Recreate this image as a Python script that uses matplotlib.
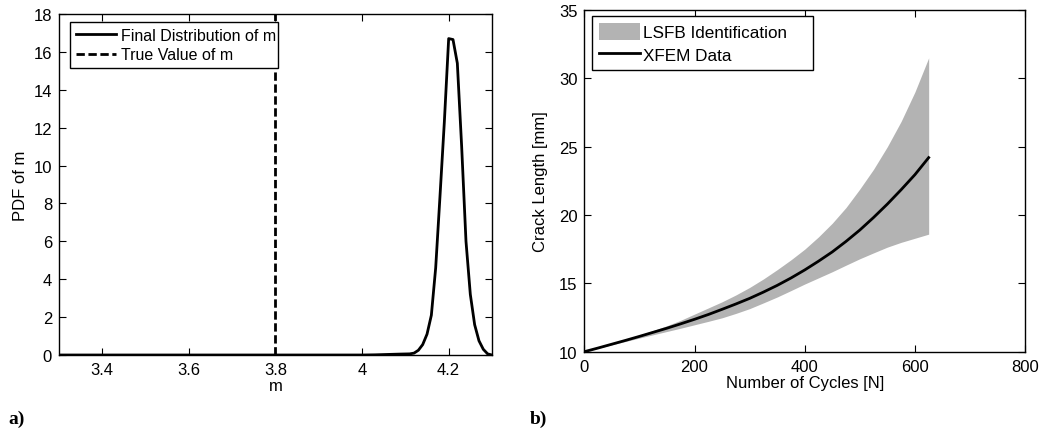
import numpy as np
import matplotlib.pyplot as plt

plt.rcParams['font.family'] = ['Liberation Sans', 'DejaVu Sans']
plt.rcParams['font.size'] = 12

# panel a) : posterior pdf of m
m_vals = [3.30, 3.60, 3.90, 4.00, 4.03, 4.06, 4.09, 4.11, 4.12, 4.13, 4.14,
          4.15, 4.16, 4.17, 4.18, 4.19, 4.20, 4.21, 4.22, 4.23, 4.24, 4.25,
          4.26, 4.27, 4.28, 4.29, 4.30]
pdf_vals = [0.0, 0.0, 0.0, 0.0, 0.01, 0.03, 0.05, 0.06, 0.1, 0.25, 0.55,
            1.1, 2.1, 4.6, 8.4, 12.3, 16.7, 16.65, 15.4, 11.0, 6.0, 3.2,
            1.6, 0.75, 0.3, 0.06, 0.0]
m_true = 3.8

# panel b) : crack growth
cycles = [0, 25, 50, 75, 100, 125, 150, 175, 200, 225, 250, 275, 300, 325,
          350, 375, 400, 425, 450, 475, 500, 525, 550, 575, 600, 625]
xfem = [10.0, 10.27, 10.55, 10.83, 11.12, 11.42, 11.72, 12.04, 12.37, 12.72,
        13.1, 13.49, 13.9, 14.36, 14.85, 15.39, 15.98, 16.62, 17.3, 18.07,
        18.9, 19.82, 20.8, 21.85, 22.95, 24.2]
band_hi = [10.0, 10.3, 10.6, 10.91, 11.22, 11.55, 11.9, 12.3, 12.75, 13.2,
           13.65, 14.15, 14.7, 15.32, 16.0, 16.72, 17.5, 18.4, 19.4, 20.55,
           21.9, 23.35, 25.0, 26.85, 29.0, 31.5]
band_lo = [10.0, 10.25, 10.5, 10.75, 11.0, 11.24, 11.48, 11.72, 11.97, 12.22,
           12.48, 12.8, 13.15, 13.57, 14.0, 14.47, 14.95, 15.4, 15.85, 16.33,
           16.8, 17.23, 17.65, 18.0, 18.3, 18.6]


def matlab_axes(ax):
    ax.tick_params(direction='in', top=True, right=True, length=5, width=0.8,
                   labelsize=12, pad=5)
    for s in ax.spines.values():
        s.set_linewidth(1.0)


fig = plt.figure(figsize=(10.39, 4.35), dpi=100)

ax1 = fig.add_axes([0.0568, 0.1816, 0.4167, 0.784])
ax1.plot(m_vals, pdf_vals, color='k', lw=2, label='Final Distribution of m')
ax1.plot([m_true, m_true], [0, 18], color='k', lw=2, dashes=(3, 1.3),
         label='True Value of m')
ax1.set_xlim(3.3, 4.3)
ax1.set_ylim(0, 18)
ax1.set_xticks([3.4, 3.6, 3.8, 4.0, 4.2])
ax1.set_xticklabels(['3.4', '3.6', '3.8', '4', '4.2'])
ax1.set_yticks(range(0, 19, 2))
ax1.set_xlabel('m', labelpad=1)
ax1.set_ylabel('PDF of m', labelpad=4)
matlab_axes(ax1)
leg1 = ax1.legend(loc='upper left', bbox_to_anchor=(0.0254, 0.9765, 0.48, 0.0),
                  mode='expand', fontsize=11.5,
                  fancybox=False, edgecolor='k', framealpha=1,
                  handlelength=2.5, handletextpad=0.35, borderpad=0.35,
                  labelspacing=0.3, borderaxespad=0)
leg1.get_frame().set_linewidth(1.0)

ax2 = fig.add_axes([0.5624, 0.1892, 0.4242, 0.7855])
ax2.fill_between(cycles, band_lo, band_hi, color='#b3b3b3', lw=0,
                 label='LSFB Identification')
ax2.plot(cycles, xfem, color='k', lw=2, label='XFEM Data')
ax2.set_xlim(0, 800)
ax2.set_ylim(10, 35)
ax2.set_xticks(range(0, 801, 200))
ax2.set_yticks(range(10, 36, 5))
ax2.set_xlabel('Number of Cycles [N]', labelpad=1)
ax2.set_ylabel('Crack Length [mm]', labelpad=8)
matlab_axes(ax2)
leg2 = ax2.legend(loc='upper left', bbox_to_anchor=(0.0168, 0.9824, 0.503, 0.0),
                  mode='expand', fontsize=12.3,
                  fancybox=False, edgecolor='k', framealpha=1,
                  handlelength=2.4, handleheight=1.15, handletextpad=0.2,
                  borderpad=0.4, labelspacing=0.35, borderaxespad=0)
leg2.get_frame().set_linewidth(1.0)

fig.text(0.008, 0.025, 'a)', family=['Liberation Serif', 'DejaVu Serif'],
         fontsize=14, fontweight='bold')
fig.text(0.51, 0.025, 'b)', family=['Liberation Serif', 'DejaVu Serif'],
         fontsize=14, fontweight='bold')

fig.savefig('out.png', dpi=100)
